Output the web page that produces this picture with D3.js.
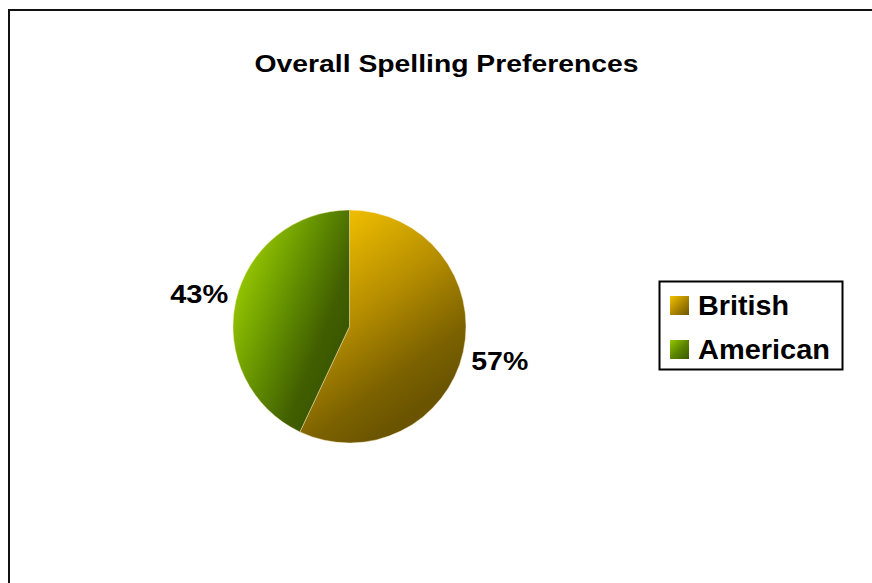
<!DOCTYPE html>
<html>
<head>
<meta charset="utf-8">
<script src="https://cdn.jsdelivr.net/npm/d3@7"></script>
<style>
  html, body { margin: 0; padding: 0; background: #fff; }
  svg { display: block; }
  text { font-family: "Liberation Sans", Arial, sans-serif; font-weight: bold; fill: #000; }
</style>
</head>
<body>
<svg id="chart" width="872" height="583"></svg>
<script>
// Survey result: share of respondents by spelling preference
const categories = ["British", "American"];
const values = [57, 43];
const valueLabels = ["57%", "43%"];
const chartTitle = "Overall Spelling Preferences";

const svg = d3.select("#chart");

// Chart area frame (runs off the right and bottom edges)
svg.append("rect")
  .attr("x", 9).attr("y", 10)
  .attr("width", 900).attr("height", 600)
  .attr("fill", "#fff")
  .attr("stroke", "#111")
  .attr("stroke-width", 2);

const defs = svg.append("defs");
const cx = 349.5, cy = 326.5, R = 116.5;

// Slice shading: light towards the upper left, dark towards the right/bottom
const sliceStops = {
  British: [[0, "#eebd00"], [0.45, "#b48c00"], [0.8, "#7c6200"], [1, "#6a5400"]],
  American: [[0, "#96c800"], [0.45, "#628e00"], [0.8, "#415f00"], [1, "#3a5600"]]
};
const keyStops = {
  British: [[0, "#f2c200"], [0.5, "#b08800"], [1, "#6c5600"]],
  American: [[0, "#96c800"], [0.5, "#5c8600"], [1, "#3a5700"]]
};

function gradient(id, stops, attrs) {
  const g = defs.append("linearGradient").attr("id", id);
  Object.entries(attrs).forEach(([k, v]) => g.attr(k, v));
  stops.forEach(([o, c]) => g.append("stop").attr("offset", o).attr("stop-color", c));
}
gradient("grad-British", sliceStops.British,
  { gradientUnits: "userSpaceOnUse", x1: cx - 5, y1: cy - 110, x2: cx + 112, y2: cy + 50 });
gradient("grad-American", sliceStops.American,
  { gradientUnits: "userSpaceOnUse", x1: cx - 115, y1: cy - 40, x2: cx, y2: cy + 5 });
categories.forEach(c => gradient("key-" + c, keyStops[c], { x1: 0, y1: 0, x2: 1, y2: 1 }));

// Title
svg.append("text")
  .attr("x", 446.5).attr("y", 72)
  .attr("text-anchor", "middle")
  .attr("font-size", 24)
  .attr("textLength", 384)
  .attr("lengthAdjust", "spacingAndGlyphs")
  .text(chartTitle);

// Pie
const data = categories.map((c, i) => ({ name: c, value: values[i], label: valueLabels[i] }));
const pie = d3.pie().sort(null).value(d => d.value);
const arcs = pie(data);
const arc = d3.arc().innerRadius(0).outerRadius(R);
const labelArc = d3.arc().innerRadius(154).outerRadius(154);

// Slices are drawn in page coordinates so the gradients line up with them
svg.append("g")
  .selectAll("path.slice")
  .data(arcs)
  .join("path")
  .attr("class", "slice")
  .attr("d", d => {
    const [x0, y0] = [cx, cy];
    const shifted = d3.path();
    const a0 = d.startAngle - Math.PI / 2, a1 = d.endAngle - Math.PI / 2;
    shifted.moveTo(x0, y0);
    shifted.lineTo(x0 + R * Math.cos(a0), y0 + R * Math.sin(a0));
    shifted.arc(x0, y0, R, a0, a1, false);
    shifted.closePath();
    return shifted.toString();
  })
  .attr("fill", d => `url(#grad-${d.data.name})`)
  .attr("stroke", "rgba(255,240,200,0.55)")
  .attr("stroke-width", 0.8);

// Value labels outside the slices
const labelWidths = { British: 57, American: 58 };
svg.selectAll("text.value")
  .data(arcs)
  .join("text")
  .attr("class", "value")
  .attr("x", d => cx + labelArc.centroid(d)[0])
  .attr("y", d => cy + labelArc.centroid(d)[1] + 10)
  .attr("text-anchor", "middle")
  .attr("font-size", 25)
  .attr("textLength", d => labelWidths[d.data.name])
  .attr("lengthAdjust", "spacingAndGlyphs")
  .text(d => d.data.label);

// Legend
const legend = svg.append("g");
legend.append("rect")
  .attr("x", 659.5).attr("y", 281.5)
  .attr("width", 183).attr("height", 88)
  .attr("fill", "#fff")
  .attr("stroke", "#000")
  .attr("stroke-width", 2);

const legendY = d3.scaleBand().domain(categories).range([284, 372]);
const legendTextWidths = { British: 91, American: 132 };
const item = legend.selectAll("g.item")
  .data(categories)
  .join("g")
  .attr("class", "item");
item.append("rect")
  .attr("x", 670)
  .attr("y", c => legendY(c) + 12)
  .attr("width", 19).attr("height", 19)
  .attr("fill", c => `url(#key-${c})`);
item.append("text")
  .attr("x", 698)
  .attr("y", c => legendY(c) + 31)
  .attr("font-size", 28)
  .attr("textLength", c => legendTextWidths[c])
  .attr("lengthAdjust", "spacingAndGlyphs")
  .text(c => c);
</script>
</body>
</html>
